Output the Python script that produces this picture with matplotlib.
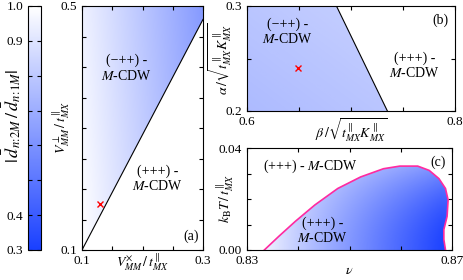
import numpy as np
import matplotlib
matplotlib.use("Agg")
import matplotlib.pyplot as plt
from matplotlib.colors import LinearSegmentedColormap
from matplotlib.patches import Polygon
from matplotlib.cm import ScalarMappable
from matplotlib.colors import Normalize

plt.rcParams['font.family'] = ['Liberation Serif', 'DejaVu Serif']
plt.rcParams['mathtext.fontset'] = 'stix'
plt.rcParams['font.size'] = 9.5
plt.rcParams['xtick.direction'] = 'in'
plt.rcParams['ytick.direction'] = 'in'
plt.rcParams['xtick.major.size'] = 3
plt.rcParams['ytick.major.size'] = 3
plt.rcParams['axes.linewidth'] = 0.8

# colorbar range
cbar_ticks = [0.3, 0.4, 0.5, 0.6, 0.7, 0.8, 0.9, 1.0]
cbar_labels = ["0.3", "0.4", "", "", "", "", "0.9", "1.0"]

# panel (a): boundary between (-++) and (+++) phases
a_bound_x = [0.1, 0.3]
a_bound_y = [0.1, 0.478]
a_cross = (0.1295, 0.175)

# panel (b): boundary
b_bound_x = [0.686, 0.735]
b_bound_y = [0.3, 0.2]
b_cross = (0.6486, 0.241)

# panel (c): phase boundary (T vs nu)
c_nu = [0.83338, 0.83624, 0.83943, 0.84325, 0.84771, 0.85217, 0.85662, 0.85981,
        0.86331, 0.86554, 0.86745, 0.86873, 0.86924, 0.86904, 0.86841, 0.86841, 0.86873]
c_T = [0.0, 0.00542, 0.01123, 0.01768, 0.02413, 0.02865, 0.03187, 0.03290,
       0.03290, 0.03123, 0.02800, 0.02413, 0.01961, 0.01316, 0.00800, 0.00413, 0.0]

cmap = LinearSegmentedColormap.from_list("wb", [(0.1, 0.25, 1.0), (1, 1, 1)])
norm = Normalize(0.3, 1.0)
TXT = 10

W, H = 463, 280
fig = plt.figure(figsize=(W / 100, H / 100), dpi=100)


def px_axes(l, t, r, b):
    return fig.add_axes([l / W, 1 - b / H, (r - l) / W, (b - t) / H])


def grad_fill(ax, poly, xlim, ylim, field):
    xs = np.linspace(*xlim, 200)
    ys = np.linspace(*ylim, 200)
    X, Y = np.meshgrid(xs, ys)
    im = ax.imshow(field(X, Y), extent=[*xlim, *ylim], origin='lower',
                   cmap=cmap, norm=norm, aspect='auto', interpolation='bilinear')
    patch = Polygon(poly, closed=True, facecolor='none', edgecolor='none',
                    transform=ax.transData)
    ax.add_patch(patch)
    im.set_clip_path(patch)


# colorbar
cax = px_axes(28, 6, 41, 250)
cb = fig.colorbar(ScalarMappable(norm=norm, cmap=cmap), cax=cax)
cb.set_ticks(cbar_ticks)
cb.set_ticklabels(cbar_labels)
cax.yaxis.set_ticks_position('both')
cax.tick_params(axis='y', direction='in', labelleft=True, labelright=False, length=3)
cb.outline.set_linewidth(0.8)
cb.set_label(r"$|\,\bar{d}_{n\!:\!2M}\,/\,\bar{d}_{n\!:\!1M}|$", fontsize=13)
cax.yaxis.set_label_position('left')
cax.yaxis.set_label_coords(-0.4, 0.55)

# panel (a)
ax = px_axes(82, 6, 203, 250)
xa, ya = (0.1, 0.3), (0.1, 0.5)
grad_fill(ax, [(a_bound_x[0], a_bound_y[0]), (a_bound_x[1], a_bound_y[1]),
               (0.3, 0.5), (0.1, 0.5)], xa, ya,
          lambda X, Y: 1 - 0.32 * (X - 0.1) / 0.2 - 0.05 * (Y - 0.1) / 0.4)
ax.plot(a_bound_x, a_bound_y, color='black', lw=0.8)
ax.plot(*a_cross, marker='x', color='red', ms=5, mew=1)
ax.set_xlim(xa)
ax.set_ylim(ya)
ax.set_xticks([0.1, 0.15, 0.2, 0.25, 0.3])
ax.set_xticklabels(["0.1", "", "", "", "0.3"])
ax.set_yticks([0.1, 0.15, 0.2, 0.25, 0.3, 0.35, 0.4, 0.45, 0.5])
ax.set_yticklabels(["0.1", "", "", "", "", "", "", "", "0.5"])
ax.tick_params(top=True, right=True)
ax.set_xlabel(r"$V^{\times}_{MM}\,/\,t^{\parallel}_{MX}$", labelpad=-11, fontsize=TXT)
ax.set_ylabel(r"$V^{\perp}_{MM}\,/\,t^{\parallel}_{MX}$", labelpad=-8, fontsize=TXT)
ax.text(0.174, 0.398, "(\u2212++) -\n$M$-CDW", ha='center', va='center',
        linespacing=1.1, fontsize=TXT)
ax.text(0.225, 0.217, "(+++) -\n$M$-CDW", ha='center', va='center',
        linespacing=1.1, fontsize=TXT)
ax.text(0.97, 0.03, "(a)", transform=ax.transAxes, ha='right', va='bottom', fontsize=TXT)

# panel (b)
ax = px_axes(247, 6, 455, 111)
xb, yb = (0.6, 0.8), (0.2, 0.3)
grad_fill(ax, [(0.6, 0.2), (b_bound_x[1], b_bound_y[1]),
               (b_bound_x[0], b_bound_y[0]), (0.6, 0.3)], xb, yb,
          lambda X, Y: 0.75 + 0.04 * (X - 0.6) / 0.135 + 0.04 * (Y - 0.2) / 0.1)
ax.plot(b_bound_x, b_bound_y, color='black', lw=0.8)
ax.plot(*b_cross, marker='x', color='red', ms=5, mew=1)
ax.set_xlim(xb)
ax.set_ylim(yb)
ax.set_xticks([0.6, 0.65, 0.7, 0.75, 0.8])
ax.set_xticklabels(["0.6", "", "", "", "0.8"])
ax.set_yticks([0.2, 0.25, 0.3])
ax.set_yticklabels(["0.2", "", "0.3"])
ax.tick_params(top=True, right=True)
ax.set_xlabel(r"$\beta\,/\sqrt{t^{\parallel}_{MX}K^{\parallel}_{MX}}$", labelpad=-8, fontsize=TXT)
ax.set_ylabel(r"$\alpha\,/\sqrt{t^{\parallel}_{MX}K^{\parallel}_{MX}}$", labelpad=-6, fontsize=TXT)
ax.text(0.6386, 0.2757, "(\u2212++) -\n$M$-CDW", ha='center', va='center',
        linespacing=1.1, fontsize=TXT)
ax.text(0.7608, 0.2428, "(+++) -\n$M$-CDW", ha='center', va='center',
        linespacing=1.1, fontsize=TXT)
ax.text(0.97, 0.93, "(b)", transform=ax.transAxes, ha='right', va='top', fontsize=TXT)

# panel (c)
ax = px_axes(247, 148, 452, 250)
xc, yc = (0.83, 0.87), (0.0, 0.04)


def c_field(X, Y):
    s = np.clip((X - 0.832) / 0.036, 0, 1)
    return 1 - 0.68 * s ** 0.85 * (1 - 0.45 * (Y / 0.034) ** 2)


grad_fill(ax, list(zip(c_nu, c_T)), xc, yc, c_field)
ax.plot(c_nu, c_T, color='#ff2aa0', lw=1.2)
ax.set_xlim(xc)
ax.set_ylim(yc)
ax.set_xticks([0.83, 0.84, 0.85, 0.86, 0.87])
ax.set_xticklabels(["0.83", "", "", "", "0.87"])
ax.set_yticks([0.0, 0.01, 0.02, 0.03, 0.04])
ax.set_yticklabels(["0.00", "", "", "", "0.04"])
ax.tick_params(top=True, right=True)
ax.set_xlabel(r"$\nu$", labelpad=-2, fontsize=TXT)
ax.set_ylabel(r"$k_{\mathrm{B}}T\,/\,t^{\parallel}_{MX}$", labelpad=-12, fontsize=TXT)
ax.text(0.8423, 0.0328, "(+++) - $M$-CDW", ha='center', va='center', fontsize=TXT)
ax.text(0.8447, 0.0077, "(+++) -\n$M$-CDW", ha='center', va='center',
        linespacing=1.1, fontsize=TXT)
ax.text(0.97, 0.93, "(c)", transform=ax.transAxes, ha='right', va='top', fontsize=TXT)

fig.savefig("out.png", dpi=100)
